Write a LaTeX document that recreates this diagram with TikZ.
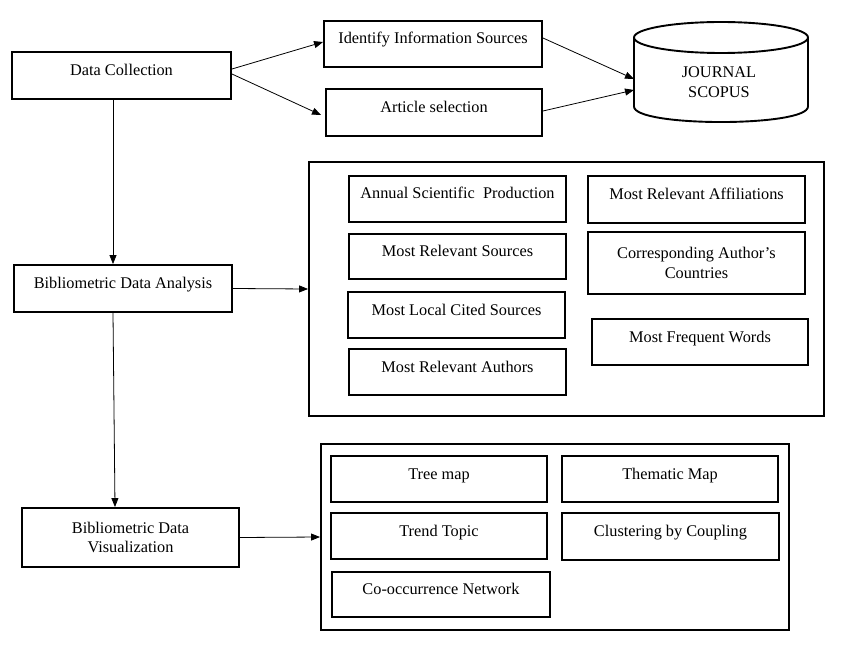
\documentclass[tikz,border=0pt]{standalone}
\usepackage{fontspec}
\setmainfont{Liberation Serif}
\usetikzlibrary{positioning, arrows.meta, calc}

\tikzset{
  box/.style={draw, line width=1.9pt, inner sep=0pt, text height=6pt, text depth=6pt},
  twoline/.style={draw, line width=1.9pt, inner sep=0pt, align=center},
  frame/.style={draw, line width=1.9pt},
  conn/.style={line width=0.8pt, -{Triangle[length=9pt,width=7pt]}}
}

\begin{document}
\begin{tikzpicture}[x=1pt, y=-1pt, font=\fontsize{16.3}{19.5}\selectfont]
    \useasboundingbox (0,0) rectangle (846,647);

    \node[box, minimum width=219, minimum height=47] (DC) at (121.5,75.5) {Data Collection};
    \node[box, minimum width=218, minimum height=46] (IS) at (433,44) {Identify Information Sources};
    \node[box, minimum width=216, minimum height=47] (AS) at (434,112.5) {Article selection};

    % database
    \draw[frame] (721,37.5) ellipse [x radius=87, y radius=15.5];
    \draw[frame] (634,37.5) -- (634,106.5) .. controls (634,127.2) and (808,127.2) .. (808,106.5) -- (808,37.5);
    \node[align=center] (JS) at (719,82) {JOURNAL\\SCOPUS};
    \coordinate (JSa) at (634,79);
    \coordinate (JSb) at (634,90);

    \node[box, minimum width=218, minimum height=47] (BDA) at (123,288.5) {Bibliometric Data Analysis};
    \node[twoline, minimum width=217, minimum height=59] (BDV) at (130.5,537.5) {Bibliometric Data\\Visualization};

    % analysis
    \node[frame, minimum width=515, minimum height=254] (ANA) at (566.5,289) {};
    \node[box, minimum width=217, minimum height=46] (ASP) at (457.5,199) {Annual Scientific\ \ Production};
    \node[box, minimum width=217, minimum height=45] (MRS) at (457.5,256.5) {Most Relevant Sources};
    \node[box, minimum width=217, minimum height=46] (MLC) at (456.5,315) {Most Local Cited Sources};
    \node[box, minimum width=217, minimum height=46] (MRA) at (457.5,372) {Most Relevant Authors};
    \node[box, minimum width=217, minimum height=47] (MAF) at (696.5,199.5) {Most Relevant Affiliations};
    \node[twoline, minimum width=217, minimum height=62] (CAC) at (696.5,263) {Corresponding Author's\\Countries};
    \node[box, minimum width=216, minimum height=46] (MFW) at (700,342) {Most Frequent Words};

    % visualization
    \node[frame, minimum width=468, minimum height=186] (VIS) at (555,537) {};
    \node[box, minimum width=216, minimum height=46] (TM) at (439,479) {Tree map};
    \node[box, minimum width=216, minimum height=46] (THM) at (670,479) {Thematic Map};
    \node[box, minimum width=216, minimum height=46] (TT) at (439,536) {Trend Topic};
    \node[box, minimum width=217, minimum height=47] (CC) at (670.5,536.5) {Clustering\ by Coupling};
    \node[box, minimum width=218, minimum height=45] (CON) at (441,594.5) {Co-occurrence Network};

    \path[conn]
    ([yshift=6.5pt]DC.east) edge ([yshift=2pt]IS.west)
    ([yshift=1.5pt]DC.east) edge ([xshift=-4pt,yshift=-2.5pt]AS.west)
    ([yshift=6pt]IS.east) edge (JSa)
    ([yshift=1.5pt]AS.east) edge (JSb)
    ([xshift=-8.5pt]DC.south) edge ([xshift=-10pt]BDA.north)
    (BDA.east) edge (ANA.west)
    ([xshift=-10pt]BDA.south) edge ([xshift=-15.5pt]BDV.north)
    (BDV.east) edge (VIS.west)
    ;
\end{tikzpicture}
\end{document}
